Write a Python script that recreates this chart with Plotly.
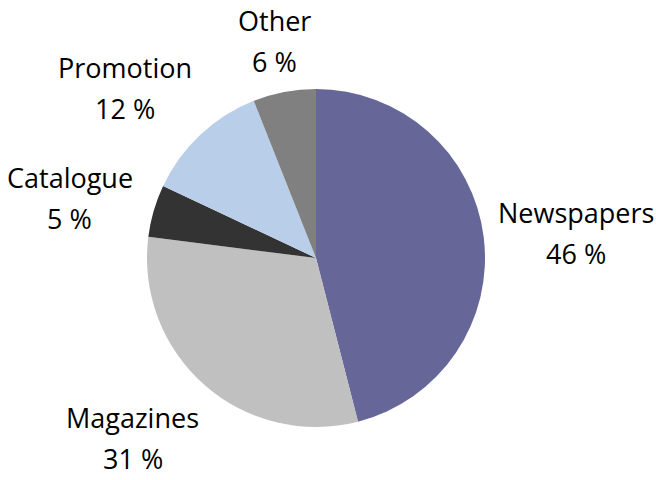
import math
import plotly.graph_objects as go

categories = ["Newspapers", "Magazines", "Catalogue", "Promotion", "Other"]
values = [46, 31, 5, 12, 6]
colors = ["#666699", "#C0C0C0", "#333333", "#B9CFE9", "#808080"]

W, H = 656, 480
cx, cy, r = 316, 258, 169
FONT = dict(family="Open Sans", size=27, color="#000000")

fig = go.Figure(go.Pie(
    labels=categories,
    values=values,
    sort=False,
    direction="clockwise",
    rotation=0,
    marker=dict(colors=colors, line=dict(width=0)),
    textinfo="none",
    showlegend=False,
    hoverinfo="label+value",
    domain=dict(x=[(cx - r) / W, (cx + r) / W],
                y=[(H - cy - r) / H, (H - cy + r) / H]),
))

# Excel-style outside labels placed from each slice's mid-angle:
# the label box sits just beyond the rim, pushed outward by its own size
total = sum(values)
cum = 0.0
R = r + 14          # anchor radius just outside the pie
half_h = 40         # half height of a two-line label block
shift = 3           # glyph-centre vs. line-box correction
for lab, v in zip(categories, values):
    mid = (cum + v / 2) / total * 2 * math.pi
    cum += v
    s, c = math.sin(mid), math.cos(mid)
    m = max(abs(s), abs(c))
    w = 0.58 * FONT["size"] * len(lab)
    lx = cx + R * s + (w / 2) * (s / m)
    ly = cy - R * c - half_h * (c / m) + shift
    for txt, dy in ((lab, -20.5), (f"{v} %", 20.5)):
        fig.add_annotation(
            x=lx / W, y=1 - (ly + dy) / H, xref="paper", yref="paper",
            text=txt, showarrow=False, xanchor="center", yanchor="middle",
            font=FONT,
        )

fig.update_layout(
    width=W, height=H,
    margin=dict(l=0, r=0, t=0, b=0),
    paper_bgcolor="white",
    plot_bgcolor="white",
)

fig.write_html("out.html")
